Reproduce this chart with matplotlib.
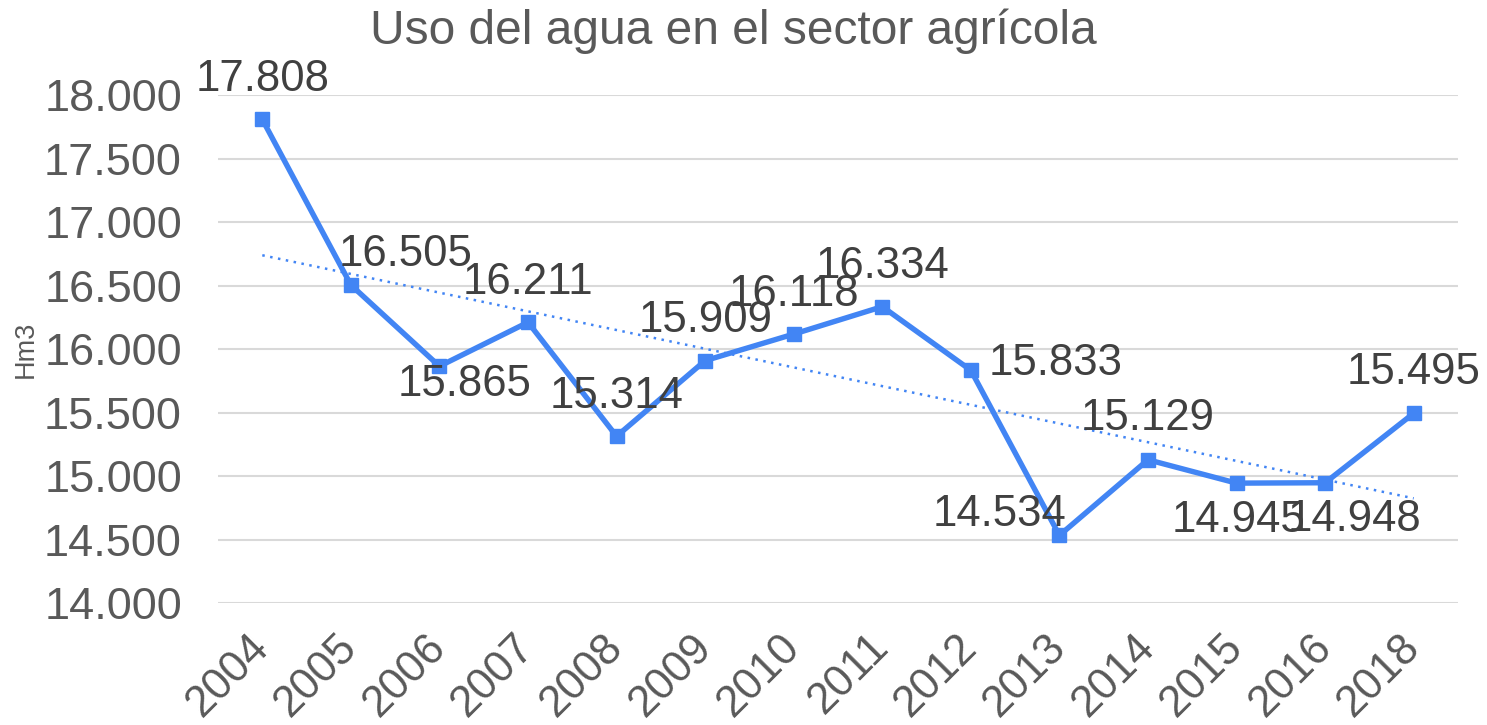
import numpy as np
import matplotlib.pyplot as plt

plt.rcParams['font.family'] = ['Liberation Sans', 'DejaVu Sans']

# data
years = ['2004', '2005', '2006', '2007', '2008', '2009', '2010',
         '2011', '2012', '2013', '2014', '2015', '2016', '2018']
uso_agua = [17808, 16505, 15865, 16211, 15314, 15909, 16118,
            16334, 15833, 14534, 15129, 14945, 14948, 15495]
yticks = [14000, 14500, 15000, 15500, 16000, 16500, 17000, 17500, 18000]

# label offsets in pixels (dx, dy)
label_offsets = [(0, 40), (55, 30), (25, -18), (0, 40), (0, 40), (0, 40), (0, 40),
                 (0, 40), (85, 7), (-60, 21), (0, 41), (2, -37), (29, -37), (0, 41)]

blue = '#4285F4'
grey = '#595959'

fig = plt.figure(figsize=(14.87, 7.25), dpi=100)
ax = fig.add_axes([0.1466, 0.168, 0.8339, 0.701])

x = np.arange(len(years))
ax.plot(x, uso_agua, color=blue, lw=3.9, marker='s', markersize=10, zorder=3)

# linear trendline
coef = np.polyfit(x, uso_agua, 1)
ax.plot(x, np.polyval(coef, x), color=blue, lw=1.8, linestyle=(0, (1, 2.2)), zorder=2)

for i, v in enumerate(uso_agua):
    dx, dy = label_offsets[i]
    ax.annotate(f'{v:,}'.replace(',', '.'), (x[i], v), xytext=(dx, dy),
                textcoords='offset pixels', ha='center', va='center',
                fontsize=31.5, color='#404040', zorder=4)

ax.set_xlim(-0.5, len(years) - 0.5)
ax.set_ylim(14000, 18000)
ax.set_yticks(yticks)
ax.set_yticklabels([f'{t:,}'.replace(',', '.') for t in yticks], fontsize=32.5, color=grey)
ax.set_xticks(x)
ax.set_xticklabels(years, fontsize=31.5, color=grey, rotation=45, ha='right',
                   va='center', rotation_mode='anchor')
ax.tick_params(length=0, axis='y', pad=26)
ax.tick_params(length=0, axis='x', pad=27)
ax.grid(axis='y', color='#D9D9D9', lw=1.5)
ax.set_axisbelow(True)
for s in ax.spines.values():
    s.set_visible(False)

fig.text(26 / 1487, 1 - 349 / 725, 'Hm3', rotation=90, ha='center', va='center',
         fontsize=19.5, color=grey)

fig.text(0.493, 0.957, 'Uso del agua en el sector agrícola', ha='center', va='center',
         fontsize=34.5, color=grey)

fig.savefig('out.png', dpi=100)
